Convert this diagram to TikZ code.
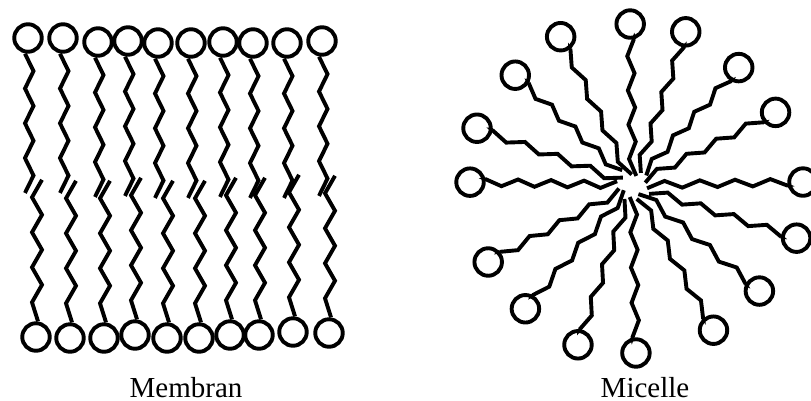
\documentclass[tikz,border=0pt]{standalone}
\usepackage{fontspec}
\setmainfont{Liberation Serif}
\usetikzlibrary{calc}
\tikzset{head/.style={draw, circle, line width=3.9pt, minimum size=27.5pt, inner sep=0pt},
tail/.style={line width=3.9pt, line join=miter},
caption/.style={anchor=base, inner sep=0pt, font=\fontsize{29}{34}\selectfont}
}

\begin{document}
\begin{tikzpicture}[x=1pt,y=1pt]
\useasboundingbox (0,0) rectangle (811,-400);
% upper layer of the membrane
\foreach \x/\y [count=\i] in {28/38,63/38,98/42,128/41,158/43,191/43,223/42,253/43,287/43,322/41}{
  \node[head] (u\i) at (\x,-\y) {};
  \draw[tail] ([xshift=-3pt]u\i.south) \foreach \k in {1,...,4}{ -- ++(8.5,-17.4) -- ++(-8.5,-17.4)};
}
% lower layer
\foreach \x/\y [count=\i] in {36/337,70/338,104/338,135/335,167/338,199/338,230/335,259/335,293/332,329/333}{
  \node[head] (l\i) at (\x,-\y) {};
  \draw[tail] ([xshift=2pt]l\i.north) -- ++(-6,19) \foreach \k in {1,...,3}{ -- ++(10,17.5) -- ++(-10,17.5)} -- ++(10,17.5);
}
\node[caption] (membran) at (186,-397) {Membran};
% micelle: angle / head distance / inner end
\coordinate (c) at (633,-185);
\foreach \a/\r/\s [count=\i] in {91/161/9,71/162/14,48/158/16,27/160/12,1/170/14,-18/172/18,-40/165/10,-61/166/14,
    -89/168/12,-109/169/16,-131/164/10,-152/164/14,179/163/16,160/166/12,137/161/18,116/165/10}{
  \begin{scope}[shift={(c)}, rotate=\a]
  \node[head] (m\i) at (\r,0) {};
  \pgfmathsetmacro\seg{(\r-15-\s)/8}
  \draw[tail] (\s,-3.5) \foreach \k in {1,...,4}{ -- ++(\seg,7) -- ++(\seg,-7)} -- (m\i);
  \end{scope}
}
\node[caption] (micelle) at (645,-397) {Micelle};
\end{tikzpicture}
\end{document}
